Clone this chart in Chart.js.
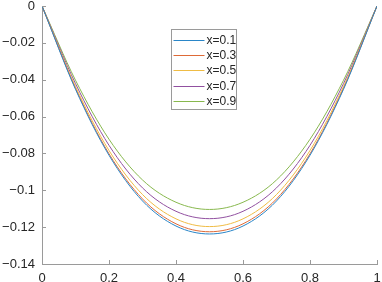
<!DOCTYPE html>
<html>
<head>
<meta charset="utf-8">
<script src="https://cdn.jsdelivr.net/npm/chart.js@4.4.1/dist/chart.umd.min.js"></script>
<style>
    html, body { margin: 0; padding: 0; background: #fff; }
    #chart { display: block; }
</style>
</head>
<body>
<canvas id="chart" width="382" height="282"></canvas>
<script>
// data
var tValues = [0, 0.1, 0.2, 0.3, 0.4, 0.5, 0.6, 0.7, 0.8, 0.9, 1];
var seriesLabels = ['x=0.1', 'x=0.3', 'x=0.5', 'x=0.7', 'x=0.9'];
var uAt01 = [0, -0.0452, -0.0810, -0.1058, -0.1194, -0.1237, -0.1194, -0.1058, -0.0810, -0.0452, 0];
var uAt03 = [0, -0.0447, -0.0802, -0.1047, -0.1182, -0.1225, -0.1182, -0.1047, -0.0802, -0.0447, 0];
var uAt05 = [0, -0.0437, -0.0784, -0.1023, -0.1155, -0.1197, -0.1155, -0.1023, -0.0784, -0.0437, 0];
var uAt07 = [0, -0.0421, -0.0756, -0.0987, -0.1114, -0.1154, -0.1114, -0.0987, -0.0756, -0.0421, 0];
var uAt09 = [0, -0.0403, -0.0723, -0.0944, -0.1065, -0.1104, -0.1065, -0.0944, -0.0723, -0.0403, 0];
var xTicks = [0, 0.2, 0.4, 0.6, 0.8, 1];
var yTicks = [0, -0.02, -0.04, -0.06, -0.08, -0.1, -0.12, -0.14];

(function () {
    'use strict';

    var COLORS = ['#2a86c8', '#de6a37', '#efbc45', '#9150a0', '#88b84e'];
    var AXIS = '#9a9a9a';
    var TEXT = '#262626';
    var FONT = '"Liberation Sans", Arial, sans-serif';

    function fmt(v) {
        var s = String(Number(v.toFixed(2)));
        return s.replace('-', '\u2212');
    }

    function toPoints(ys) {
        return tValues.map(function (t, i) { return { x: t, y: ys[i] }; });
    }

    // tick marks pointing into the plot, like octave
    var innerTicks = {
        id: 'innerTicks',
        afterDatasetsDraw: function (chart) {
            var ctx = chart.ctx;
            var area = chart.chartArea;
            var xs = chart.scales.x;
            var ys = chart.scales.y;
            ctx.save();
            ctx.strokeStyle = AXIS;
            ctx.lineWidth = 1;
            ctx.beginPath();
            xs.ticks.forEach(function (t) {
                var px = Math.round(xs.getPixelForValue(t.value)) + 0.5;
                ctx.moveTo(px, area.bottom);
                ctx.lineTo(px, area.bottom - 4);
            });
            ys.ticks.forEach(function (t) {
                var py = Math.round(ys.getPixelForValue(t.value)) + 0.5;
                ctx.moveTo(area.left, py);
                ctx.lineTo(area.left + 4, py);
            });
            ctx.stroke();
            ctx.restore();
        }
    };

    // boxed legend inside the axes
    var boxLegend = {
        id: 'boxLegend',
        afterDraw: function (chart) {
            var ctx = chart.ctx;
            var bx = 171.5, by = 29.5, bw = 65, bh = 80;
            ctx.save();
            ctx.fillStyle = '#fff';
            ctx.fillRect(bx, by, bw, bh);
            ctx.strokeStyle = AXIS;
            ctx.lineWidth = 1;
            ctx.strokeRect(bx, by, bw, bh);
            ctx.font = '12px ' + FONT;
            ctx.textBaseline = 'middle';
            ctx.fillStyle = TEXT;
            chart.data.datasets.forEach(function (ds, i) {
                var y = Math.round(by + 10 + i * 15.4) + 0.5;
                ctx.strokeStyle = ds.borderColor;
                ctx.beginPath();
                ctx.moveTo(bx + 2, y);
                ctx.lineTo(bx + 33, y);
                ctx.stroke();
                ctx.fillText(ds.label, bx + 35, y);
            });
            ctx.restore();
        }
    };

    function init() {
        var series = [uAt01, uAt03, uAt05, uAt07, uAt09];
        var datasets = series.map(function (ys, i) {
            return {
                label: seriesLabels[i],
                data: toPoints(ys),
                borderColor: COLORS[i],
                borderWidth: 1,
                pointRadius: 0,
                fill: false,
                cubicInterpolationMode: 'monotone'
            };
        });

        new Chart(document.getElementById('chart'), {
            type: 'line',
            data: { datasets: datasets },
            options: {
                responsive: false,
                animation: false,
                devicePixelRatio: 1,
                layout: { padding: { top: 6, right: 5, left: 0, bottom: 0 } },
                plugins: {
                    legend: { display: false },
                    tooltip: { enabled: false }
                },
                scales: {
                    x: {
                        type: 'linear',
                        min: 0,
                        max: 1,
                        grid: { display: false, drawTicks: false },
                        border: { display: true, color: AXIS, width: 1 },
                        ticks: {
                            color: TEXT,
                            font: { family: FONT, size: 13 },
                            padding: 7,
                            maxRotation: 0,
                            callback: fmt
                        },
                        afterBuildTicks: function (s) {
                            s.ticks = xTicks.map(function (v) { return { value: v }; });
                        },
                        afterFit: function (s) {
                            s.height = 18;
                            s.paddingLeft = 0;
                            s.paddingRight = 0;
                        }
                    },
                    y: {
                        min: -0.14,
                        max: 0,
                        grid: { display: false, drawTicks: false },
                        border: { display: true, color: AXIS, width: 1 },
                        ticks: {
                            color: TEXT,
                            font: { family: FONT, size: 13 },
                            padding: 7,
                            callback: fmt
                        },
                        afterBuildTicks: function (s) {
                            s.ticks = yTicks.map(function (v) { return { value: v }; });
                        },
                        afterFit: function (s) {
                            s.width = 42;
                            s.paddingTop = 0;
                            s.paddingBottom = 0;
                        }
                    }
                }
            },
            plugins: [innerTicks, boxLegend]
        });
    }

    if (document.readyState === 'loading') {
        document.addEventListener('DOMContentLoaded', init);
    } else {
        init();
    }
})();
</script>
</body>
</html>
